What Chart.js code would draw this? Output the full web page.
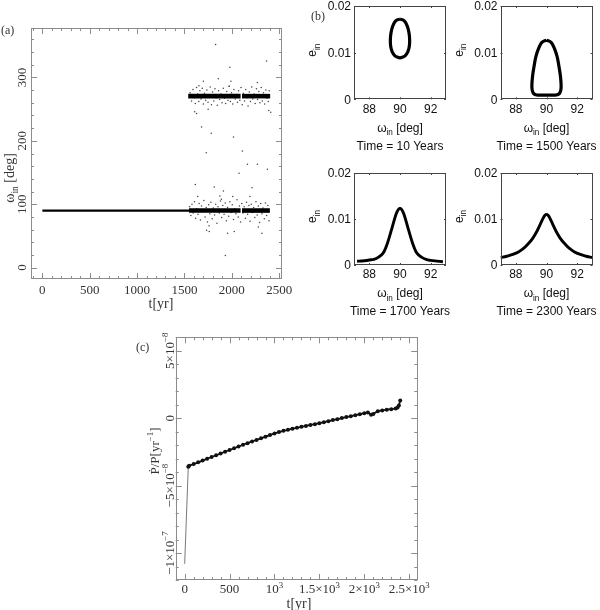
<!DOCTYPE html>
<html><head><meta charset="utf-8">
<script src="https://cdn.jsdelivr.net/npm/chart.js@4.4.0/dist/chart.umd.min.js"></script>
<style>
html,body{margin:0;padding:0;background:#fff;}
#wrap{position:relative;width:600px;height:610px;overflow:hidden;}
#wrap canvas{position:absolute;left:0;top:0;}
</style></head><body><div id="wrap"></div>
<script>
// ================= DATA =================
// Panel (a): omega_in [deg] vs t [yr]
const aLine90 = [[0, 90], [1550, 90]];
const aBand90 = [[1548, 2093], [2108, 2402]];     // dense band segments at 90 deg
const aBand270 = [[1540, 2093], [2108, 2405]];    // dense band segments at 270 deg
const aScatter270 = [[1560,276],[1575,263],[1590,281],[1602,268],[1615,259],[1628,284],[1640,274],[1652,262],[1663,279],[1675,266],[1688,283],[1700,258],[1712,275],[1724,264],[1737,280],[1749,261],[1760,272],[1772,285],[1785,257],[1797,277],[1810,263],[1822,282],[1835,268],[1847,256],[1860,279],[1872,265],[1885,274],[1897,260],[1910,283],[1922,267],[1935,259],[1947,278],[1960,264],[1972,286],[1985,262],[1997,276],[2010,258],[2022,281],[2035,266],[2047,273],[2060,261],[2072,279],[2085,264],[2097,284],[2110,257],[2122,275],[2135,263],[2147,281],[2160,268],[2172,255],[2185,277],[2197,262],[2210,285],[2222,266],[2235,274],[2247,259],[2260,282],[2272,265],[2285,278],[2297,260],[2310,284],[2322,263],[2335,276],[2347,258],[2360,280],[2372,267],[2385,262],[2395,279],[1608,246],[1750,250],[2390,248],[2270,292],[1700,294],[1990,294]];
const aScatter90 = [[1555,96],[1568,82],[1580,100],[1593,86],[1606,104],[1618,78],[1630,93],[1643,84],[1655,101],[1668,75],[1680,97],[1693,88],[1705,106],[1718,80],[1730,95],[1743,72],[1755,99],[1768,85],[1780,103],[1793,77],[1805,94],[1818,83],[1830,100],[1843,70],[1855,96],[1868,86],[1880,105],[1893,79],[1905,98],[1918,84],[1930,102],[1943,74],[1955,95],[1968,81],[1980,104],[1993,87],[2005,99],[2018,76],[2030,93],[2043,85],[2055,107],[2068,80],[2080,97],[2093,72],[2105,101],[2118,86],[2130,96],[2143,78],[2155,103],[2168,84],[2180,98],[2193,73],[2205,100],[2218,87],[2230,95],[2243,79],[2255,104],[2268,83],[2280,97],[2293,71],[2305,101],[2318,85],[2330,94],[2343,77],[2355,102],[2368,82],[2380,98],[2393,74],[1760,66],[2280,64],[1890,108],[2010,112],[1640,112]];
const aOutliers = [[1829,352],[1980,316],[2367,326],[1857,298],[1973,286],[1653,287],[2411,245],[1628,243],[1681,222],[1783,212],[2018,206],[1730,181],[2112,184],[2270,163],[2165,163],[2376,155],[2077,149],[1615,131],[1912,121],[2214,126],[1815,127],[1874,113],[2191,112],[1734,59],[1762,57],[1955,54],[2025,57],[2318,54],[1932,19]];
const aXTicks = [0, 500, 1000, 1500, 2000, 2500];
const aYTicks = [0, 100, 200, 300];

// Panel (b): e_in vs omega_in at four times
const bTimes = [10, 1500, 1700, 2300];
const loop10Omega = [90.0,90.25,90.42,90.54,90.61,90.63,90.60,90.50,90.33,90.15,90.0,89.85,89.67,89.50,89.40,89.37,89.39,89.46,89.58,89.75,90.0];
const loop10E     = [0.0172,0.0169,0.0161,0.0150,0.0137,0.0124,0.0112,0.0101,0.0093,0.0090,0.0089,0.0090,0.0093,0.0101,0.0112,0.0124,0.0137,0.0150,0.0161,0.0169,0.0172];
const loop1500Omega = [90.0,90.3,90.5,90.68,90.8,90.9,90.95,90.93,90.8,90.5,90.0,89.5,89.2,89.07,89.05,89.1,89.2,89.32,89.5,89.7,90.0];
const loop1500E     = [0.0127,0.0122,0.0110,0.0093,0.0073,0.0052,0.0033,0.0019,0.0011,0.0009,0.0009,0.0009,0.0011,0.0019,0.0033,0.0052,0.0073,0.0093,0.0110,0.0122,0.0127];
const bell1700Omega = [87.2,87.5,87.8,88.0,88.3,88.6,88.9,89.1,89.3,89.5,89.7,89.8,89.9,90.0,90.1,90.2,90.3,90.5,90.7,90.9,91.1,91.4,91.7,92.0,92.4,92.8];
const bell1700E     = [0.00082,0.00088,0.00098,0.0011,0.0012,0.0017,0.0026,0.0040,0.0060,0.0083,0.0106,0.0115,0.0121,0.0123,0.0121,0.0115,0.0106,0.0083,0.0060,0.0040,0.0026,0.0017,0.0012,0.0010,0.00085,0.00072];
const bell2300Omega = [87.0,87.4,87.8,88.2,88.5,88.8,89.1,89.4,89.6,89.8,89.9,90.0,90.1,90.2,90.4,90.6,90.9,91.2,91.5,91.8,92.2,92.6,93.0];
const bell2300E     = [0.0016,0.0019,0.0023,0.0029,0.0036,0.0046,0.0058,0.0075,0.0089,0.0103,0.0108,0.0110,0.0108,0.0103,0.0089,0.0075,0.0058,0.0046,0.0036,0.0029,0.0023,0.0019,0.0016];
const bXTicks = [88, 90, 92];
const bYTicks = [0, 0.01, 0.02];
const bYTickLabels = ['0', '0.01', '0.02'];

// Panel (c): Pdot/P [yr^-1] (in units of 1e-8) vs t [yr]
const cTime = [0,40,50,100,150,200,250,300,350,400,450,500,550,600,650,700,750,800,850,900,950,1000,1050,1100,1150,1200,1250,1300,1350,1400,1450,1500,1550,1600,1650,1700,1750,1800,1850,1900,1950,2000,2040,2075,2100,2150,2200,2250,2300,2350,2370,2385,2400];
const cRate1e8 = [-10.8,-3.6,-3.52,-3.40,-3.27,-3.14,-3.01,-2.88,-2.75,-2.62,-2.49,-2.36,-2.23,-2.10,-1.97,-1.85,-1.73,-1.61,-1.49,-1.37,-1.25,-1.13,-1.03,-0.94,-0.86,-0.78,-0.71,-0.64,-0.57,-0.50,-0.44,-0.37,-0.30,-0.22,-0.14,-0.07,0.01,0.08,0.15,0.22,0.30,0.37,0.43,0.25,0.32,0.52,0.58,0.63,0.67,0.72,0.80,0.95,1.31];
const cXTicks = [0, 500, 1000, 1500, 2000, 2500];
const cXTickLabels = ['0', '500', '10^{3}', '1.5×10^{3}', '2×10^{3}', '2.5×10^{3}'];
const cYTicks = [-1e-7, -5e-8, 0, 5e-8];
const cYTickLabels = ['−1×10^{−7}', '−5×10^{−8}', '0', '5×10^{−8}'];

// ================= DRAWING =================
const W = 600, H = 610;
const SERIF = '"Liberation Serif", "DejaVu Serif", serif';
const SANS = '"Liberation Sans", Arial, sans-serif';

function makeCanvas() {
  const c = document.createElement('canvas');
  c.width = W; c.height = H;
  c.style.width = W + 'px'; c.style.height = H + 'px';
  document.getElementById('wrap').appendChild(c);
  return c;
}
function R(str) { // parse ^{..} and _{..}
  const segs = []; const re = /(\^|_)\{([^}]*)\}/g; let last = 0, m;
  while ((m = re.exec(str))) {
    if (m.index > last) segs.push({t: str.slice(last, m.index)});
    segs.push({t: m[2], s: m[1] === '^' ? 'sup' : 'sub'});
    last = re.lastIndex;
  }
  if (last < str.length) segs.push({t: str.slice(last)});
  return segs;
}
function drawRich(ctx, str, x, y, size, family, align, rot, color) {
  const segs = R(str);
  ctx.save(); ctx.translate(x, y); if (rot) ctx.rotate(rot);
  ctx.fillStyle = color || '#222';
  ctx.textBaseline = 'alphabetic'; ctx.textAlign = 'left';
  let w = 0;
  const parts = segs.map(sg => {
    const fs = sg.s ? size * 0.68 : size;
    ctx.font = fs + 'px ' + family;
    const pw = ctx.measureText(sg.t).width; w += pw;
    return {t: sg.t, fs, pw, dy: sg.s === 'sup' ? -size * 0.42 : sg.s === 'sub' ? size * 0.3 : 0};
  });
  let cx = align === 'center' ? -w / 2 : align === 'right' ? -w : 0;
  const base = size * 0.35;
  for (const p of parts) { ctx.font = p.fs + 'px ' + family; ctx.fillText(p.t, cx, base + p.dy); cx += p.pw; }
  ctx.restore();
}
function baseOptions(area, xr, yr, pluginOpts) {
  return {
    responsive: false, animation: false, devicePixelRatio: 1, events: [],
    layout: {padding: {left: area.l, top: area.t, right: W - area.r, bottom: H - area.b}, autoPadding: false},
    plugins: Object.assign({legend: {display: false}, tooltip: {enabled: false}}, pluginOpts || {}),
    scales: {
      x: {type: 'linear', display: false, min: xr[0], max: xr[1]},
      y: {type: 'linear', display: false, min: yr[0], max: yr[1]}
    }
  };
}
function pairs(arr) { return arr.map(p => ({x: p[0], y: p[1]})); }
function zip(xs, ys) { return xs.map((x, i) => ({x, y: ys[i]})); }

function frameTicks(chart, color, xMinorStep, xMajorStep, xFrom, xTo, yMinorStep, yMajorStep, yFrom, yTo, minorLen, majorLen) {
  const ctx = chart.ctx, xs = chart.scales.x, ys = chart.scales.y;
  const {left, right, top, bottom} = chart.chartArea;
  ctx.save();
  ctx.strokeStyle = color; ctx.lineWidth = 1;
  ctx.strokeRect(Math.round(left) + 0.5, Math.round(top) + 0.5, Math.round(right - left) - 1, Math.round(bottom - top) - 1);
  ctx.beginPath();
  const nx = Math.round((xTo - xFrom) / xMinorStep);
  for (let i = 0; i <= nx; i++) {
    const v = xFrom + i * xMinorStep;
    const p = Math.round(xs.getPixelForValue(v)) + 0.5;
    const L = Math.abs(v / xMajorStep - Math.round(v / xMajorStep)) < 1e-6 ? majorLen : minorLen;
    ctx.moveTo(p, bottom); ctx.lineTo(p, bottom - L);
    ctx.moveTo(p, top); ctx.lineTo(p, top + L);
  }
  const ny = Math.round((yTo - yFrom) / yMinorStep);
  for (let i = 0; i <= ny; i++) {
    const v = yFrom + i * yMinorStep;
    const p = Math.round(ys.getPixelForValue(v)) + 0.5;
    const L = Math.abs(v / yMajorStep - Math.round(v / yMajorStep)) < 1e-6 ? majorLen : minorLen;
    ctx.moveTo(left, p); ctx.lineTo(left + L, p);
    ctx.moveTo(right, p); ctx.lineTo(right - L, p);
  }
  ctx.stroke();
  ctx.restore();
}

// ---------- Panel (a) ----------
(function () {
  const area = {l: 31, t: 28, r: 282, b: 279};
  const dotStyle = {type: 'scatter', showLine: false, pointRadius: 0.75, pointBorderWidth: 0, pointBackgroundColor: '#444', borderColor: '#444'};
  const bandDS = (segs, val) => segs.map(s => ({type: 'scatter', showLine: true, data: [{x: s[0], y: val}, {x: s[1], y: val}], borderColor: '#000', borderWidth: 4.6, pointRadius: 0}));
  const datasets = [
    {type: 'scatter', showLine: true, data: pairs(aLine90), borderColor: '#000', borderWidth: 2.3, pointRadius: 0},
    ...bandDS(aBand90, 90),
    ...bandDS(aBand270, 270.5),
    Object.assign({data: pairs(aScatter90)}, dotStyle),
    Object.assign({data: pairs(aScatter270)}, dotStyle),
    Object.assign({data: pairs(aOutliers)}, dotStyle)
  ];
  const plugin = {id: 'aDecor', afterDraw(chart) {
    const ctx = chart.ctx, xs = chart.scales.x, ys = chart.scales.y;
    frameTicks(chart, '#8c8c8c', 100, 500, -100, 2500, 20, 100, 0, 360, 3, 6);
    aXTicks.forEach(v => drawRich(ctx, String(v), xs.getPixelForValue(v), 289.5, 13, SERIF, 'center', 0, '#333'));
    aYTicks.forEach(v => drawRich(ctx, String(v), 21.5, ys.getPixelForValue(v), 13, SERIF, 'center', -Math.PI / 2, '#333'));
    drawRich(ctx, 't[yr]', 161, 303.5, 14, SERIF, 'center', 0, '#333');
    drawRich(ctx, 'ω_{in} [deg]', 9, 178, 14, SERIF, 'center', -Math.PI / 2, '#333');
    drawRich(ctx, '(a)', 1, 30, 12, SERIF, 'left', 0, '#333');
  }};
  new Chart(makeCanvas(), {type: 'scatter', data: {datasets}, options: baseOptions(area, [-120, 2530], [-18, 378]), plugins: [plugin]});
})();

// ---------- Panel (b) ----------
(function () {
  const cols = [[354, 446], [500.5, 592.5]];
  const rows = [[6, 99.3], [173, 265]];
  const curves = [[loop10Omega, loop10E], [loop1500Omega, loop1500E], [bell1700Omega, bell1700E], [bell2300Omega, bell2300E]];
  curves.forEach((cv, i) => {
    const c = cols[i % 2], r = rows[Math.floor(i / 2)];
    const area = {l: c[0], t: r[0], r: c[1], b: r[1]};
    const ds = [{type: 'scatter', showLine: true, data: zip(cv[0], cv[1]), borderColor: '#000', borderWidth: i < 2 ? 3.2 : 2.9, tension: 0.4, pointRadius: 0, borderJoinStyle: 'round'}];
    const plugin = {id: 'bDecor' + i, afterDraw(chart) {
      const ctx = chart.ctx, xs = chart.scales.x, ys = chart.scales.y;
      const {left, right, top, bottom} = chart.chartArea;
      ctx.save();
      ctx.strokeStyle = '#444'; ctx.lineWidth = 1;
      ctx.strokeRect(Math.round(left) + 0.5, Math.round(top) + 0.5, Math.round(right - left) - 1, Math.round(bottom - top) - 1);
      ctx.beginPath();
      bXTicks.forEach(v => { const p = Math.round(xs.getPixelForValue(v)) + 0.5; ctx.moveTo(p, bottom); ctx.lineTo(p, bottom - 2); ctx.moveTo(p, top); ctx.lineTo(p, top + 2); });
      bYTicks.forEach(v => { const p = Math.round(ys.getPixelForValue(v)) + 0.5; ctx.moveTo(left, p); ctx.lineTo(left + 2, p); ctx.moveTo(right, p); ctx.lineTo(right - 2, p); });
      ctx.stroke(); ctx.restore();
      bXTicks.forEach(v => drawRich(ctx, String(v), xs.getPixelForValue(v), bottom + 9, 12, SANS, 'center', 0, '#111'));
      bYTicks.forEach((v, k) => drawRich(ctx, bYTickLabels[k], left - 3, ys.getPixelForValue(v), 12, SANS, 'right', 0, '#111'));
      const cx = (left + right) / 2;
      drawRich(ctx, 'ω_{in} [deg]', cx, bottom + 28, 12, SANS, 'center', 0, '#111');
      drawRich(ctx, 'Time = ' + bTimes[i] + ' Years', cx, bottom + 46, 12, SANS, 'center', 0, '#111');
      drawRich(ctx, 'e_{in}', left - 42, (top + bottom) / 2 - 2.5, 12, SANS, 'center', -Math.PI / 2, '#111');
      if (i === 0) drawRich(ctx, '(b)', 311, 16, 12, SERIF, 'left', 0, '#333');
    }};
    new Chart(makeCanvas(), {type: 'scatter', data: {datasets: ds}, options: baseOptions(area, [87, 93], [0, 0.02]), plugins: [plugin]});
  });
})();

// ---------- Panel (c) ----------
(function () {
  const area = {l: 175.7, t: 337.3, r: 417.3, b: 580};
  const data = cTime.map((t, i) => ({x: t, y: cRate1e8[i] * 1e-8}));
  const ds = [{type: 'scatter', showLine: true, data, borderColor: '#111', borderWidth: 1.8,
    segment: {borderWidth: ctx => ctx.p0DataIndex === 0 ? 0.8 : 1.8, borderColor: ctx => ctx.p0DataIndex === 0 ? '#555' : '#111'},
    pointRadius: ctx => ctx.dataIndex === 0 ? 0 : 2.0, pointBackgroundColor: '#111', pointBorderWidth: 0}];
  const plugin = {id: 'cDecor', afterDraw(chart) {
    const ctx = chart.ctx, xs = chart.scales.x, ys = chart.scales.y;
    frameTicks(chart, '#8c8c8c', 100, 500, -100, 2500, 1e-8, 5e-8, -1.2e-7, 6e-8, 3, 6);
    cXTicks.forEach((v, k) => drawRich(ctx, cXTickLabels[k], xs.getPixelForValue(v), 588.5, 13, SERIF, 'center', 0, '#333'));
    cYTicks.forEach((v, k) => drawRich(ctx, cYTickLabels[k], 169, ys.getPixelForValue(v), 13, SERIF, 'center', -Math.PI / 2, '#333'));
    drawRich(ctx, 't[yr]', 299, 603, 14, SERIF, 'center', 0, '#333');
    drawRich(ctx, 'Ṗ/P[yr^{−1}]', 154, 451, 13, SERIF, 'center', -Math.PI / 2, '#333');
    drawRich(ctx, '(c)', 136, 346.5, 12, SERIF, 'left', 0, '#333');
  }};
  new Chart(makeCanvas(), {type: 'scatter', data: {datasets: ds}, options: baseOptions(area, [-100, 2590], [-1.2e-7, 6e-8]), plugins: [plugin]});
})();
</script>
</body></html>
